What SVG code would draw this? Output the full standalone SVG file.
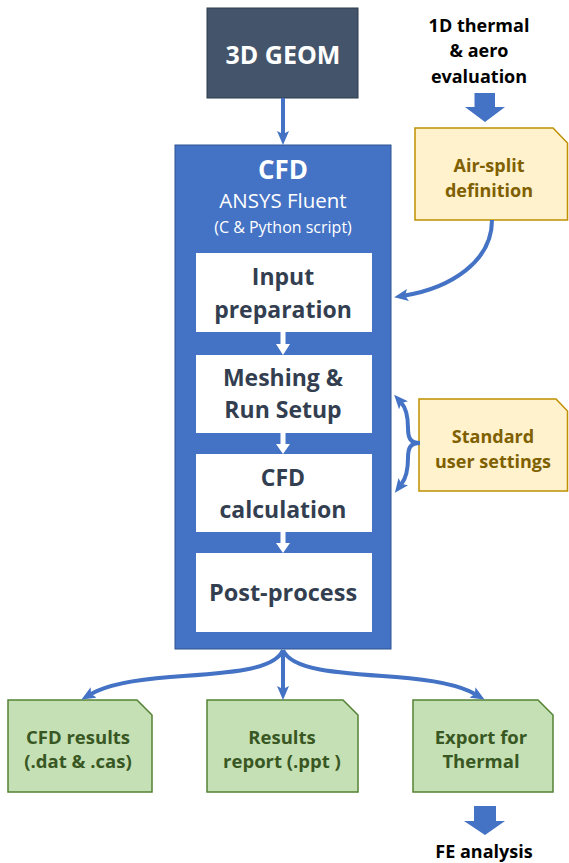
<svg xmlns="http://www.w3.org/2000/svg" width="569" height="863" viewBox="0 0 569 863">
<defs>
<style>
text{font-family:"Open Sans","Liberation Sans",sans-serif;text-anchor:middle;font-weight:bold}
.w{fill:#ffffff}
.n{fill:#333f50}
.y{fill:#7f6000}
.g{fill:#385723}
.k{fill:#000000}
.r{font-weight:normal}
.con{fill:none;stroke:#4472c4;stroke-width:4}
.yb{fill:#fff2cc;stroke:#bf9000;stroke-width:1.5}
.gb{fill:#c5e0b4;stroke:#548235;stroke-width:1.5}
.ib{fill:#ffffff}
</style>
<marker id="ah" viewBox="0 0 14 12" refX="3" refY="6" markerWidth="14" markerHeight="12" markerUnits="userSpaceOnUse" orient="auto">
<path d="M0,0 L14,6 L0,12 L3,6 Z" fill="#4472c4"/>
</marker>
</defs>
<rect width="569" height="863" fill="#ffffff"/>

<g id="geom">
<rect x="207" y="8" width="151" height="90" fill="#44546a" stroke="#2f3b4c" stroke-width="1"/>
<text x="283" y="64" class="w" font-size="25">3D GEOM</text>
</g>

<g id="eval">
<text x="479" y="32" class="k" font-size="18">1D thermal</text>
<text x="479" y="57" class="k" font-size="18">&amp; aero</text>
<text x="479" y="83" class="k" font-size="18">evaluation</text>
<path d="M474.5,93 L495,93 L495,107 L505,107 L485,122 L465,107 L474.5,107 Z" fill="#4472c4"/>
</g>

<g id="cfd">
<rect x="175" y="145" width="216" height="504" fill="#4472c4" stroke="#2f528f" stroke-width="1"/>
<text x="283" y="179" class="w" font-size="26">CFD</text>
<text x="283" y="208" class="w r" font-size="20.5">ANSYS Fluent</text>
<text x="283" y="233" class="w r" font-size="16">(C &amp; Python script)</text>
</g>

<g id="input">
<rect x="196" y="253" width="176" height="79" class="ib"/>
<text x="283" y="285" class="n" font-size="23">Input</text>
<text x="283" y="318" class="n" font-size="23">preparation</text>
</g>

<g id="mesh">
<rect x="196" y="355" width="176" height="78" class="ib"/>
<text x="283" y="386" class="n" font-size="23">Meshing &amp;</text>
<text x="283" y="418" class="n" font-size="23">Run Setup</text>
</g>

<g id="calc">
<rect x="196" y="454" width="176" height="78" class="ib"/>
<text x="283" y="486" class="n" font-size="23">CFD</text>
<text x="283" y="518" class="n" font-size="23">calculation</text>
</g>

<g id="post">
<rect x="196" y="553" width="176" height="79" class="ib"/>
<text x="283" y="601" class="n" font-size="23.5">Post-process</text>
</g>

<g id="airsplit">
<path d="M415,128 L553,128 L567.5,143 L567.5,220 L415,220 Z" class="yb"/>
<text x="489" y="172" class="y" font-size="18">Air-split</text>
<text x="489" y="197" class="y" font-size="18">definition</text>
</g>

<g id="settings">
<path d="M419,399 L556,399 L567.5,411 L567.5,491 L419,491 Z" class="yb"/>
<text x="493" y="443" class="y" font-size="18">Standard</text>
<text x="493" y="468" class="y" font-size="18">user settings</text>
</g>

<g id="res1">
<path d="M8,700 L137,700 L152,715 L152,792 L8,792 Z" class="gb"/>
<text x="78" y="744" class="g" font-size="18.5">CFD results</text>
<text x="78" y="768" class="g" font-size="18.5">(.dat &amp; .cas)</text>
</g>

<g id="res2">
<path d="M207,700 L343,700 L358,715 L358,792 L207,792 Z" class="gb"/>
<text x="282" y="744" class="g" font-size="18.5">Results</text>
<text x="282" y="768" class="g" font-size="18.5">report (.ppt )</text>
</g>

<g id="res3">
<path d="M413,700 L538,700 L553,715 L553,792 L413,792 Z" class="gb"/>
<text x="481" y="744" class="g" font-size="18.5">Export for</text>
<text x="481" y="768" class="g" font-size="18.5">Thermal</text>
</g>

<g id="fe">
<path d="M474,806 L496,806 L496,821 L505,821 L485,835 L464,821 L474,821 Z" fill="#4472c4"/>
<text x="484" y="858" class="k" font-size="18">FE analysis</text>
</g>

<g id="connectors">
<path d="M283,98 L283,134" class="con" marker-end="url(#ah)"/>
<path d="M492,220 C492,262 450,288 405,295.5" class="con" marker-end="url(#ah)"/>
<path d="M420,443 C410,443 408,438 408,428 C408,415 406,408 401.5,403" class="con" marker-end="url(#ah)"/>
<path d="M420,443 C410,443 408,448 408,458 C408,471 406,478 401.5,484" class="con" marker-end="url(#ah)"/>
<path d="M280.5,332 L285.5,332 L285.5,344 L290,344 L283,355 L276,344 L280.5,344 Z" fill="#ffffff"/>
<path d="M280.5,433 L285.5,433 L285.5,444 L290,444 L283,454 L276,444 L280.5,444 Z" fill="#ffffff"/>
<path d="M280.5,532 L285.5,532 L285.5,543 L290,543 L283,553 L276,543 L280.5,543 Z" fill="#ffffff"/>
<path d="M283,650 C275,670 230,673 170,677 C130,680 105,686 91,694" class="con" marker-end="url(#ah)"/>
<path d="M283,650 L283,689" class="con" marker-end="url(#ah)"/>
<path d="M283,650 C291,670 336,673 396,677 C436,680 461,686 475,694" class="con" marker-end="url(#ah)"/>
</g>
</svg>
